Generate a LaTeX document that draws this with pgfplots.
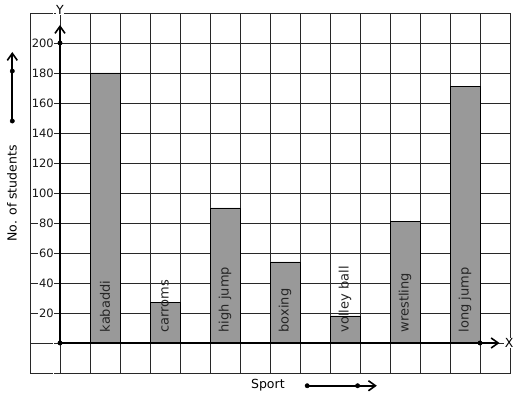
\documentclass[border=0pt]{standalone}
\usepackage{fontspec}
\setmainfont{DejaVu Sans}
\usepackage{pgfplots}
\pgfplotsset{compat=1.18}
\usetikzlibrary{arrows.meta}
\definecolor{barg}{RGB}{153,153,153}
\definecolor{gridc}{RGB}{40,40,40}
\tikzset{barlab/.style={rotate=90, anchor=west, inner sep=0pt, text=black!85, font=\fontsize{13}{14}\selectfont}}
\begin{document}
\begin{tikzpicture}
\begin{axis}[
  at={(30pt,26pt)}, anchor=south west,
  scale only axis, width=480pt, height=360pt,
  xmin=-1, xmax=15, ymin=-20, ymax=220,
  xtick={-1,0,...,15}, ytick={-20,0,...,220},
  xticklabel=\empty,
  yticklabels={{},{},20,40,60,80,100,120,140,160,180,200,{}},
  yticklabel style={font=\fontsize{11.5}{12}\selectfont, fill=white, inner sep=0.6pt, xshift=24.5pt, text=black!90},
  major tick length=0pt,
  grid=major,
  major grid style={gridc, line width=0.75pt},
  axis line style={gridc, line width=0.75pt},
  clip=false,
]
\addplot[ybar, bar width=1, bar shift=0pt, fill=barg, draw=black, line width=0.8pt]
  coordinates {(1.5,180) (3.5,27) (5.5,90) (7.5,54) (9.5,18) (11.5,81) (13.5,171)};
% axes
\addplot[black, line width=1.6pt, -{Straight Barb[length=7pt,width=10pt]}] coordinates {(0,0) (0,212)};
\addplot[black, line width=1.6pt, -{Straight Barb[length=7pt,width=10pt]}] coordinates {(0,0) (14.65,0)};
\addplot[only marks, mark=*, mark size=2.2pt, black] coordinates {(0,0) (0,200) (14,0)};
% side arrows
\addplot[black, line width=1.6pt, -{Straight Barb[length=7pt,width=10pt]}] coordinates {(-1.59,148) (-1.59,194)};
\addplot[only marks, mark=*, mark size=2.2pt, black] coordinates {(-1.59,148) (-1.59,181.3)};
\addplot[black, line width=1.6pt, -{Straight Barb[length=7pt,width=10pt]}] coordinates {(8.24,-28.5) (10.56,-28.5)};
\addplot[only marks, mark=*, mark size=2.2pt, black] coordinates {(8.24,-28.5) (9.92,-28.5)};
% texts
\node[fill=white, inner sep=0.5pt, font=\fontsize{12.5}{13}\selectfont] at (axis cs:0,222) {Y};
\node[fill=white, inner sep=0.5pt, font=\fontsize{12.5}{13}\selectfont] at (axis cs:14.97,0) {X};
\node[font=\fontsize{12.5}{13}\selectfont] at (axis cs:6.93,-28) {Sport};
\node[rotate=90, font=\fontsize{12.5}{13}\selectfont] at (axis cs:-1.6,99.7) {No. of students};
\node[barlab] at (axis cs:1.5,7) {kabaddi};
\node[barlab] at (axis cs:3.5,7) {carroms};
\node[barlab] at (axis cs:5.5,7) {high jump};
\node[barlab] at (axis cs:7.5,7) {boxing};
\node[barlab] at (axis cs:9.5,7) {volley ball};
\node[barlab] at (axis cs:11.5,7) {wrestling};
\node[barlab] at (axis cs:13.5,7) {long jump};
\end{axis}
\pgfresetboundingbox
\path[use as bounding box] (0,0) rectangle (517pt,399pt);
\end{tikzpicture}
\end{document}
